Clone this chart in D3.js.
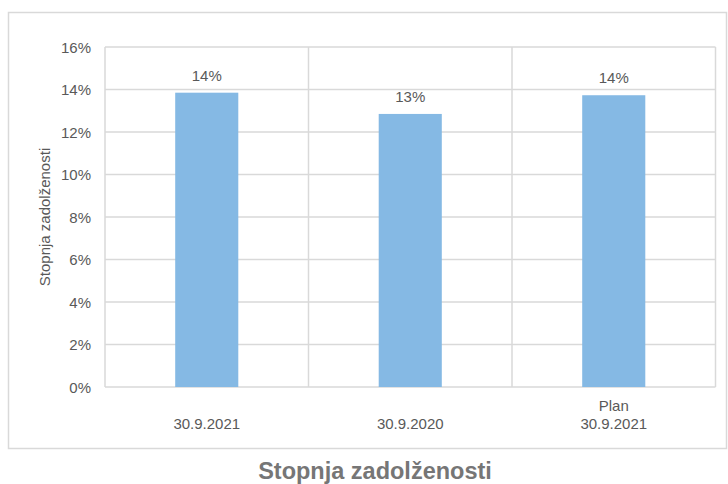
<!DOCTYPE html>
<html><head><meta charset="utf-8">
<script src="https://cdn.jsdelivr.net/npm/d3@7/dist/d3.min.js"></script>
<style>body{margin:0;background:#fff;}text{font-family:"Liberation Sans",Arial,sans-serif;}</style>
</head><body>
<svg id="c" width="728" height="484"></svg>
<script>
const categories = [["30.9.2021"], ["30.9.2020"], ["Plan", "30.9.2021"]];
const values = [0.1385, 0.1285, 0.1373];
const labels = ["14%", "13%", "14%"];
const yTicks = [0, 0.02, 0.04, 0.06, 0.08, 0.10, 0.12, 0.14, 0.16];
const yTitle = "Stopnja zadolženosti";
const chartTitle = "Stopnja zadolženosti";

const svg = d3.select("#c");
const grid = "#d9d9d9", txt = "#595959";
const L = 105, R = 715.5, T = 47, B = 387;
const fs = 15;

svg.append("rect").attr("x", 8.5).attr("y", 12.5).attr("width", 718).attr("height", 436)
  .attr("fill", "#fff").attr("stroke", grid).attr("stroke-width", 1.5);

const x = d3.scaleBand().domain(d3.range(categories.length)).range([L, R]).paddingInner(0.69).paddingOuter(0.345);
const y = d3.scaleLinear().domain([0, 0.16]).range([B, T]);

// horizontal grid
svg.append("g").selectAll("line").data(yTicks).join("line")
  .attr("x1", L).attr("x2", R).attr("y1", d => y(d)).attr("y2", d => y(d))
  .attr("stroke", grid).attr("stroke-width", 1.5);
// vertical grid at category boundaries
svg.append("g").selectAll("line").data(d3.range(categories.length + 1)).join("line")
  .attr("x1", i => L + i * (R - L) / categories.length).attr("x2", i => L + i * (R - L) / categories.length)
  .attr("y1", T).attr("y2", B).attr("stroke", grid).attr("stroke-width", 1.5);

// y axis labels
const fmt = d3.format(".0%");
svg.append("g").selectAll("text").data(yTicks).join("text")
  .attr("x", 91).attr("y", d => y(d)).attr("dy", "0.38em").attr("text-anchor", "end")
  .attr("font-size", fs).attr("fill", txt).text(d => fmt(d));

// bars
svg.append("g").selectAll("rect").data(values).join("rect")
  .attr("x", (d, i) => x(i)).attr("width", x.bandwidth())
  .attr("y", d => y(d)).attr("height", d => B - y(d)).attr("fill", "#85b9e4");

// data labels
svg.append("g").selectAll("text").data(values).join("text")
  .attr("x", (d, i) => x(i) + x.bandwidth() / 2).attr("y", d => y(d) - 12)
  .attr("text-anchor", "middle").attr("font-size", fs).attr("fill", txt).text((d, i) => labels[i]);

// category labels
categories.forEach((lines, i) => {
  const cx = x(i) + x.bandwidth() / 2;
  const t = svg.append("text").attr("text-anchor", "middle").attr("font-size", fs).attr("fill", txt);
  const n = lines.length;
  lines.forEach((s, j) => {
    t.append("tspan").attr("x", cx).attr("y", 428.5 - (n - 1 - j) * 18).text(s);
  });
});

// y title
svg.append("text").attr("transform", "translate(50," + ((T + B) / 2) + ") rotate(-90)")
  .attr("text-anchor", "middle").attr("font-size", fs).attr("fill", txt).text(yTitle);

// chart title
svg.append("text").attr("x", 375).attr("y", 479).attr("text-anchor", "middle")
  .attr("font-size", 23.5).attr("font-weight", "bold").attr("fill", "#767676").text(chartTitle);
</script>
</body></html>
